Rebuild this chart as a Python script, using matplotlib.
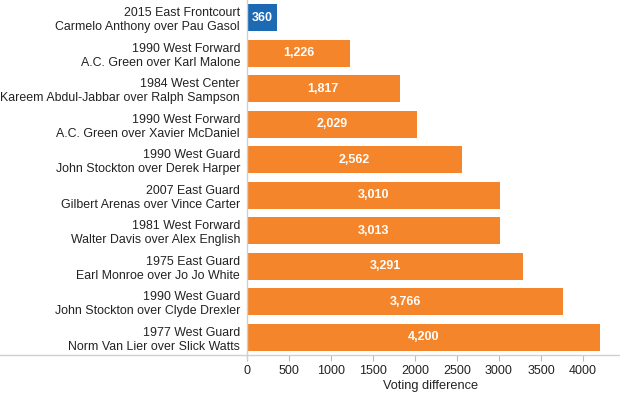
import matplotlib
matplotlib.use("Agg")
import matplotlib.pyplot as plt
from matplotlib.lines import Line2D

plt.rcParams['font.family'] = ['Liberation Sans', 'DejaVu Sans']

labels = [
    "2015 East Frontcourt\nCarmelo Anthony over Pau Gasol",
    "1990 West Forward\nA.C. Green over Karl Malone",
    "1984 West Center\nKareem Abdul-Jabbar over Ralph Sampson",
    "1990 West Forward\nA.C. Green over Xavier McDaniel",
    "1990 West Guard\nJohn Stockton over Derek Harper",
    "2007 East Guard\nGilbert Arenas over Vince Carter",
    "1981 West Forward\nWalter Davis over Alex English",
    "1975 East Guard\nEarl Monroe over Jo Jo White",
    "1990 West Guard\nJohn Stockton over Clyde Drexler",
    "1977 West Guard\nNorm Van Lier over Slick Watts",
]
values = [360, 1226, 1817, 2029, 2562, 3010, 3013, 3291, 3766, 4200]
ticks = [0, 500, 1000, 1500, 2000, 2500, 3000, 3500, 4000]

W, H = 620, 393
fig = plt.figure(figsize=(W/100, H/100), dpi=100)
ax = fig.add_axes([247/W, 1-355/H, (615-247)/W, 355/H])

colors = ['#1C6AB3'] + ['#F5852A'] * (len(values) - 1)
ypos = list(range(len(values)))
ax.barh(ypos, values, height=0.76, color=colors)
ax.set_ylim(len(values) - 0.5, -0.5)
ax.set_xlim(0, 4381)
ax.set_yticks(ypos)
ax.set_yticklabels(labels, fontsize=8.9, color='#222222', linespacing=1.2)
ax.tick_params(axis='y', length=0, pad=5)
ax.set_xticks(ticks)
ax.set_xticklabels([str(t) for t in ticks], fontsize=9, color='#222222')
ax.tick_params(axis='x', length=4, color='#bbbbbb', pad=3, direction='out')
for s in ['top', 'right', 'bottom', 'left']:
    ax.spines[s].set_visible(False)
ax.set_xlabel("Voting difference", fontsize=9.2, color='#222222', labelpad=2)

for y, v in zip(ypos, values):
    ax.text(v / 2, y, f"{v:,}", ha='center', va='center', color='white',
            fontsize=9, fontweight='bold')

# separator lines
fig.add_artist(Line2D([0, 1], [1-355/H, 1-355/H], color='#d0d0d0', lw=1))
fig.add_artist(Line2D([247/W, 247/W], [1-359/H, 1], color='#d0d0d0', lw=1))

fig.savefig("out.png", dpi=100)
